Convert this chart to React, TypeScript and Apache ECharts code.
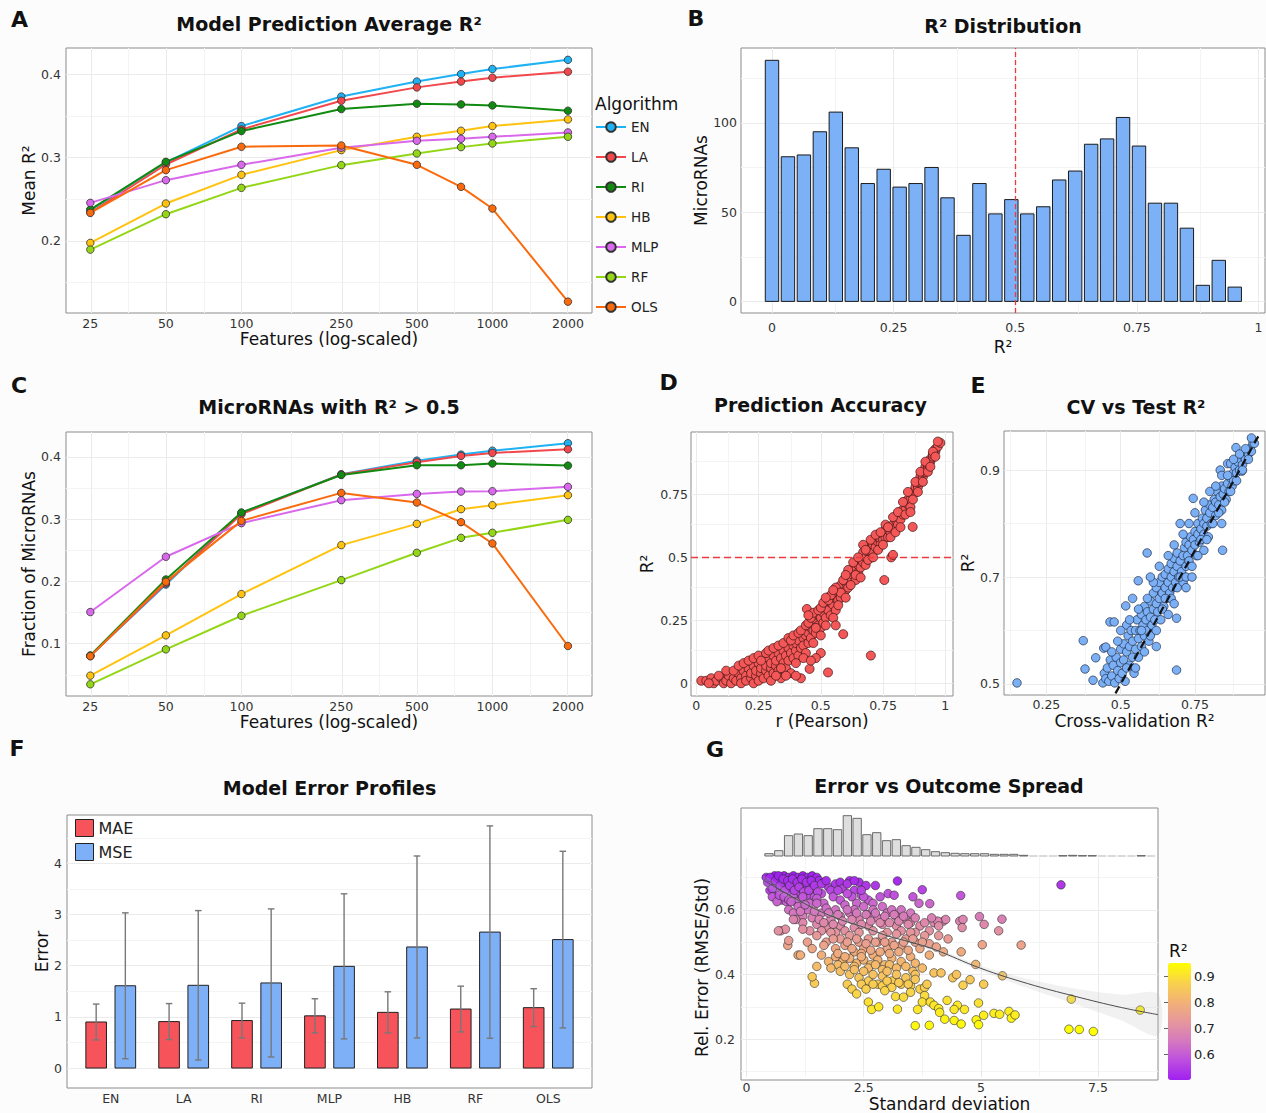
import React, { useEffect, useRef } from 'react';
import * as echarts from 'echarts';

const FONT = '"DejaVu Sans", "Liberation Sans", Verdana, sans-serif';
const MAJOR = '#ebebeb';
const MINOR = '#f4f4f4';
const TICK = '#333333';
const INK = '#111111';

// ---------- Panels A & C ----------
const featureCounts = [25, 50, 100, 250, 500, 750, 1000, 2000];
const featureTicks = [25, 50, 100, 250, 500, 1000, 2000];
const featureMinorTicks = [35.36, 70.71, 158.1, 353.6, 707.1, 1414];
const featureRange = [20, 2494];
const algorithms = ['EN', 'LA', 'RI', 'HB', 'MLP', 'RF', 'OLS'];
const algorithmColors = ['#1eb1f4', '#f2474b', '#108a10', '#ffc30f', '#d968ec', '#93d616', '#fa6a0c'];

const meanR2EN = [0.237, 0.294, 0.3376, 0.373, 0.391, 0.4, 0.406, 0.417];
const meanR2LA = [0.234, 0.2916, 0.3336, 0.368, 0.384, 0.391, 0.3956, 0.4028];
const meanR2RI = [0.2376, 0.2948, 0.3316, 0.358, 0.3644, 0.3636, 0.3624, 0.356];
const meanR2HB = [0.1976, 0.2448, 0.2792, 0.3088, 0.3248, 0.332, 0.3376, 0.3456];
const meanR2MLP = [0.2456, 0.2728, 0.2912, 0.3116, 0.32, 0.3224, 0.3248, 0.33];
const meanR2RF = [0.1896, 0.232, 0.2636, 0.2908, 0.3048, 0.3124, 0.3168, 0.3248];
const meanR2OLS = [0.2336, 0.2848, 0.3128, 0.3144, 0.2912, 0.2648, 0.2388, 0.1272];
const meanR2ByAlgorithm = [meanR2EN, meanR2LA, meanR2RI, meanR2HB, meanR2MLP, meanR2RF, meanR2OLS];
const meanR2Range = [0.1136, 0.4312];
const meanR2Ticks = [0.2, 0.3, 0.4];
const meanR2Minor = [0.15, 0.25, 0.35];

const fracEN = [0.0807, 0.195, 0.31, 0.372, 0.394, 0.4037, 0.41, 0.422];
const fracLA = [0.08, 0.197, 0.308, 0.3717, 0.3914, 0.4016, 0.4064, 0.4123];
const fracRI = [0.081, 0.2032, 0.3107, 0.371, 0.3866, 0.3866, 0.3893, 0.386];
const fracHB = [0.0487, 0.1134, 0.1797, 0.2583, 0.2925, 0.316, 0.3225, 0.3385];
const fracMLP = [0.1508, 0.2396, 0.2936, 0.3305, 0.3406, 0.3444, 0.3449, 0.3519];
const fracRF = [0.0348, 0.0909, 0.1449, 0.2021, 0.246, 0.27, 0.2781, 0.2989];
const fracOLS = [0.08, 0.1995, 0.2973, 0.3422, 0.3267, 0.2952, 0.261, 0.0963];
const fracByAlgorithm = [fracEN, fracLA, fracRI, fracHB, fracMLP, fracRF, fracOLS];
const fracRange = [0.016, 0.44];
const fracTicks = [0.1, 0.2, 0.3, 0.4];
const fracMinor = [0.05, 0.15, 0.25, 0.35];

// ---------- Panel B ----------
const r2BinCounts = [135, 81, 82, 95, 106, 86, 66, 74, 64, 66, 75, 58, 37, 66, 49, 57, 49, 53, 68, 73, 88, 91, 103, 87, 55, 55, 41, 9, 23, 8];
const r2FirstBinCenter = 0;
const r2BinWidth = 0.0328;
const r2Threshold = 0.5;

// ---------- Panel D ----------
const pearsonPoints = [
  [0.02, 0.01], [0.04, 0.01], [0.06, 0.02], [0.07, 0.0], [0.08, 0.01], [0.1, 0.02], [0.11, 0.0], [0.12, 0.01], [0.13, 0.03], [0.14, 0.0],
  [0.15, 0.02], [0.16, 0.01], [0.17, 0.04], [0.18, 0.02], [0.18, 0.0], [0.19, 0.05], [0.2, 0.03], [0.2, 0.01], [0.21, 0.06], [0.22, 0.02],
  [0.22, 0.04], [0.23, 0.07], [0.23, 0.0], [0.24, 0.03], [0.24, 0.05], [0.25, 0.08], [0.25, 0.01], [0.26, 0.04], [0.26, 0.06], [0.27, 0.09],
  [0.27, 0.02], [0.28, 0.05], [0.28, 0.07], [0.29, 0.03], [0.29, 0.1], [0.3, 0.06], [0.3, 0.08], [0.3, 0.01], [0.31, 0.11], [0.31, 0.04],
  [0.32, 0.07], [0.32, 0.09], [0.33, 0.12], [0.33, 0.05], [0.34, 0.1], [0.34, 0.02], [0.35, 0.08], [0.35, 0.13], [0.36, 0.11], [0.36, 0.06],
  [0.37, 0.14], [0.37, 0.09], [0.38, 0.12], [0.38, 0.04], [0.39, 0.15], [0.39, 0.1], [0.4, 0.13], [0.4, 0.16], [0.41, 0.11], [0.41, 0.17],
  [0.42, 0.14], [0.42, 0.02], [0.43, 0.18], [0.43, 0.15], [0.44, 0.19], [0.44, 0.12], [0.444, 0.295], [0.45, 0.2], [0.45, 0.16], [0.455, 0.057],
  [0.46, 0.22], [0.46, 0.18], [0.47, 0.21], [0.47, 0.24], [0.48, 0.2], [0.48, 0.25], [0.49, 0.23], [0.49, 0.27], [0.5, 0.22], [0.5, 0.26],
  [0.51, 0.28], [0.51, 0.24], [0.52, 0.3], [0.52, 0.26], [0.529, 0.043], [0.53, 0.29], [0.54, 0.32], [0.54, 0.27], [0.55, 0.31], [0.55, 0.34],
  [0.56, 0.29], [0.56, 0.35], [0.57, 0.33], [0.57, 0.37], [0.58, 0.34], [0.58, 0.39], [0.59, 0.195], [0.59, 0.36], [0.6, 0.4], [0.6, 0.37],
  [0.61, 0.42], [0.61, 0.38], [0.62, 0.41], [0.62, 0.44], [0.63, 0.43], [0.63, 0.46], [0.64, 0.41], [0.64, 0.45], [0.65, 0.47], [0.65, 0.44],
  [0.66, 0.49], [0.66, 0.46], [0.67, 0.48], [0.67, 0.52], [0.68, 0.5], [0.68, 0.47], [0.69, 0.52], [0.69, 0.54], [0.701, 0.11], [0.7, 0.5],
  [0.7, 0.53], [0.71, 0.55], [0.71, 0.52], [0.72, 0.56], [0.72, 0.54], [0.73, 0.56], [0.73, 0.58], [0.74, 0.57], [0.74, 0.55], [0.75, 0.59],
  [0.75, 0.57], [0.755, 0.41], [0.76, 0.58], [0.76, 0.61], [0.77, 0.6], [0.77, 0.58], [0.78, 0.62], [0.78, 0.6], [0.783, 0.5], [0.79, 0.51],
  [0.79, 0.63], [0.8, 0.62], [0.8, 0.65], [0.81, 0.66], [0.81, 0.63], [0.82, 0.68], [0.82, 0.65], [0.83, 0.69], [0.83, 0.67], [0.84, 0.69],
  [0.84, 0.72], [0.85, 0.71], [0.85, 0.73], [0.86, 0.73], [0.86, 0.7], [0.869, 0.621], [0.87, 0.75], [0.87, 0.76], [0.88, 0.76], [0.88, 0.78],
  [0.89, 0.78], [0.89, 0.8], [0.9, 0.8], [0.9, 0.82], [0.91, 0.82], [0.91, 0.84], [0.92, 0.84], [0.92, 0.86], [0.93, 0.86], [0.93, 0.87],
  [0.94, 0.88], [0.94, 0.89], [0.95, 0.9], [0.95, 0.91], [0.96, 0.92], [0.96, 0.93], [0.97, 0.94], [0.98, 0.955],
  [0.05, 0.0], [0.09, 0.03], [0.12, 0.05], [0.15, 0.05], [0.17, 0.07], [0.19, 0.08], [0.21, 0.09], [0.23, 0.1], [0.25, 0.11], [0.26, 0.09],
  [0.28, 0.12], [0.29, 0.13], [0.31, 0.14], [0.32, 0.03], [0.33, 0.15], [0.35, 0.16], [0.36, 0.03], [0.37, 0.18], [0.38, 0.17], [0.39, 0.19],
  [0.4, 0.08], [0.41, 0.2], [0.42, 0.21], [0.43, 0.1], [0.44, 0.23], [0.45, 0.24], [0.46, 0.26], [0.47, 0.16], [0.47, 0.28], [0.48, 0.22],
  [0.49, 0.29], [0.5, 0.3], [0.5, 0.19], [0.51, 0.32], [0.52, 0.23], [0.53, 0.33], [0.54, 0.35], [0.55, 0.26], [0.56, 0.38], [0.57, 0.31],
  [0.58, 0.36], [0.59, 0.41], [0.6, 0.34], [0.61, 0.45], [0.62, 0.39], [0.63, 0.48], [0.64, 0.43], [0.65, 0.5], [0.66, 0.42], [0.67, 0.55],
  [0.68, 0.53], [0.69, 0.49], [0.7, 0.57], [0.71, 0.5], [0.72, 0.59], [0.73, 0.53], [0.74, 0.6], [0.75, 0.55], [0.76, 0.63], [0.77, 0.62],
  [0.78, 0.58], [0.79, 0.66], [0.8, 0.6], [0.81, 0.68], [0.82, 0.62], [0.83, 0.72], [0.84, 0.67], [0.85, 0.76], [0.86, 0.68], [0.87, 0.73],
  [0.88, 0.8], [0.89, 0.76], [0.9, 0.84], [0.91, 0.8], [0.92, 0.88], [0.93, 0.84], [0.94, 0.86], [0.95, 0.92], [0.96, 0.9], [0.97, 0.96],
  [0.6, 0.43], [0.55, 0.37], [0.52, 0.34], [0.45, 0.27], [0.56, 0.23], [0.5, 0.12], [0.48, 0.1], [0.46, 0.09], [0.4, 0.03], [0.34, 0.06]
];

// ---------- Panel E ----------
const cvTestPoints = [
  [0.151, 0.502], [0.374, 0.581], [0.38, 0.528], [0.407, 0.507], [0.416, 0.549], [0.443, 0.567], [0.45, 0.569], [0.464, 0.616], [0.478, 0.616], [0.44, 0.502],
  [0.445, 0.52], [0.45, 0.51], [0.455, 0.53], [0.46, 0.505], [0.465, 0.545], [0.47, 0.515], [0.475, 0.535], [0.48, 0.502], [0.485, 0.55], [0.49, 0.525],
  [0.495, 0.51], [0.5, 0.54], [0.5, 0.565], [0.505, 0.52], [0.51, 0.575], [0.51, 0.545], [0.515, 0.505], [0.517, 0.646], [0.52, 0.56], [0.52, 0.61],
  [0.525, 0.59], [0.53, 0.535], [0.53, 0.57], [0.535, 0.6], [0.54, 0.55], [0.54, 0.58], [0.545, 0.52], [0.55, 0.6], [0.55, 0.565], [0.555, 0.62],
  [0.559, 0.693], [0.56, 0.585], [0.56, 0.55], [0.565, 0.6], [0.57, 0.63], [0.57, 0.57], [0.575, 0.61], [0.58, 0.59], [0.58, 0.645], [0.585, 0.62],
  [0.589, 0.745], [0.59, 0.6], [0.59, 0.635], [0.595, 0.58], [0.6, 0.625], [0.6, 0.655], [0.605, 0.61], [0.61, 0.64], [0.61, 0.67], [0.615, 0.62],
  [0.62, 0.65], [0.62, 0.68], [0.625, 0.635], [0.63, 0.66], [0.63, 0.69], [0.635, 0.62], [0.64, 0.67], [0.64, 0.7], [0.645, 0.645], [0.65, 0.68],
  [0.65, 0.705], [0.655, 0.66], [0.66, 0.69], [0.66, 0.715], [0.665, 0.67], [0.67, 0.7], [0.67, 0.725], [0.675, 0.68], [0.68, 0.71], [0.68, 0.735],
  [0.685, 0.69], [0.688, 0.526], [0.69, 0.72], [0.69, 0.745], [0.695, 0.7], [0.7, 0.73], [0.7, 0.8], [0.705, 0.71], [0.71, 0.74], [0.71, 0.69],
  [0.715, 0.755], [0.72, 0.72], [0.72, 0.765], [0.725, 0.74], [0.73, 0.76], [0.73, 0.73], [0.735, 0.775], [0.74, 0.75], [0.744, 0.847], [0.745, 0.77],
  [0.75, 0.785], [0.75, 0.76], [0.755, 0.74], [0.76, 0.78], [0.76, 0.8], [0.765, 0.765], [0.77, 0.79], [0.775, 0.81], [0.78, 0.78], [0.78, 0.8],
  [0.785, 0.825], [0.79, 0.795], [0.79, 0.81], [0.795, 0.775], [0.8, 0.82], [0.8, 0.835], [0.805, 0.8], [0.81, 0.83], [0.815, 0.845], [0.82, 0.815],
  [0.82, 0.84], [0.825, 0.86], [0.83, 0.835], [0.835, 0.9], [0.835, 0.85], [0.84, 0.825], [0.84, 0.87], [0.843, 0.75], [0.845, 0.855], [0.85, 0.865],
  [0.855, 0.845], [0.86, 0.875], [0.86, 0.912], [0.865, 0.86], [0.87, 0.885], [0.87, 0.912], [0.875, 0.87], [0.88, 0.895], [0.88, 0.88], [0.885, 0.905],
  [0.888, 0.942], [0.89, 0.895], [0.895, 0.915], [0.9, 0.9], [0.905, 0.92], [0.908, 0.898], [0.91, 0.91], [0.915, 0.925], [0.92, 0.92], [0.925, 0.935],
  [0.93, 0.93], [0.935, 0.94], [0.94, 0.935], [0.945, 0.95], [0.95, 0.95],
  [0.47, 0.56], [0.49, 0.58], [0.5, 0.6], [0.52, 0.53], [0.53, 0.62], [0.55, 0.53], [0.56, 0.64], [0.57, 0.6], [0.58, 0.56], [0.59, 0.66],
  [0.6, 0.59], [0.61, 0.69], [0.62, 0.6], [0.63, 0.72], [0.64, 0.64], [0.65, 0.66], [0.66, 0.74], [0.67, 0.66], [0.68, 0.76], [0.69, 0.68],
  [0.7, 0.7], [0.71, 0.78], [0.72, 0.7], [0.73, 0.8], [0.74, 0.72], [0.75, 0.82], [0.76, 0.74], [0.77, 0.77], [0.78, 0.84], [0.79, 0.77],
  [0.8, 0.86], [0.81, 0.8], [0.82, 0.87], [0.83, 0.82], [0.84, 0.89], [0.85, 0.84], [0.86, 0.89], [0.87, 0.86], [0.88, 0.92], [0.89, 0.88],
  [0.9, 0.93], [0.91, 0.9], [0.92, 0.94], [0.93, 0.92], [0.94, 0.96], [0.54, 0.66], [0.6, 0.7], [0.66, 0.63], [0.72, 0.68], [0.78, 0.75],
  [0.84, 0.8], [0.62, 0.57], [0.68, 0.65], [0.74, 0.7], [0.688, 0.623]
];
const identityEnds = [0.44, 0.968];

// ---------- Panel F ----------
const errorModels = ['EN', 'LA', 'RI', 'MLP', 'HB', 'RF', 'OLS'];
const maeMean = [0.9, 0.908, 0.928, 1.02, 1.088, 1.153, 1.18];
const maeSd = [0.35, 0.352, 0.34, 0.334, 0.402, 0.447, 0.37];
const mseMean = [1.608, 1.617, 1.663, 1.987, 2.366, 2.657, 2.51];
const mseSd = [1.425, 1.46, 1.447, 1.418, 1.778, 2.075, 1.726];

// ---------- Panel G ----------
const sdBinCounts = [7, 16, 61, 66, 61, 82, 82, 79, 121, 113, 64, 70, 46, 49, 31, 26, 19, 13, 10, 8, 7, 7, 7, 5, 5, 5, 2, 0, 0, 0, 1, 2, 1, 1, 0, 0, 0, 0, 1, 0];
const sdBinStart = 0.375;
const sdBinWidth = 0.209;
// [standard deviation, relative error, R²]
const spreadPoints = [
  [0.42, 0.7, 0.51], [0.55, 0.69, 0.52], [0.6, 0.705, 0.5], [0.65, 0.68, 0.54], [0.7, 0.7, 0.51], [0.75, 0.69, 0.52], [0.8, 0.705, 0.5], [0.85, 0.68, 0.54],
  [0.9, 0.7, 0.51], [0.95, 0.69, 0.52], [1.0, 0.705, 0.5], [1.05, 0.68, 0.54], [1.1, 0.7, 0.51], [1.15, 0.69, 0.52], [1.2, 0.705, 0.5], [1.25, 0.68, 0.54],
  [1.3, 0.7, 0.51], [1.35, 0.69, 0.52], [1.4, 0.705, 0.5], [1.5, 0.7, 0.51], [1.55, 0.69, 0.52], [1.65, 0.685, 0.53], [0.5, 0.66, 0.56], [0.6, 0.665, 0.56],
  [0.7, 0.655, 0.57], [0.8, 0.67, 0.55], [0.9, 0.66, 0.56], [1.0, 0.67, 0.55], [1.1, 0.655, 0.57], [1.2, 0.665, 0.56], [1.3, 0.67, 0.55], [1.4, 0.66, 0.56],
  [0.75, 0.63, 0.6], [0.85, 0.625, 0.61], [1.0, 0.64, 0.59], [1.15, 0.63, 0.6], [1.3, 0.645, 0.58], [1.45, 0.64, 0.59], [1.6, 0.65, 0.58], [1.75, 0.67, 0.55],
  [1.9, 0.68, 0.54], [2.0, 0.685, 0.53], [2.05, 0.665, 0.56], [2.2, 0.69, 0.52], [2.3, 0.66, 0.56], [2.4, 0.685, 0.53], [2.55, 0.675, 0.54], [2.25, 0.64, 0.59],
  [2.45, 0.645, 0.58], [2.6, 0.63, 0.6], [3.22, 0.689, 0.52], [3.75, 0.662, 0.56], [3.91, 0.619, 0.62], [4.57, 0.644, 0.59], [6.71, 0.677, 0.54], [3.02, 0.65, 0.58],
  [3.15, 0.645, 0.58], [3.55, 0.64, 0.59], [3.68, 0.62, 0.62],
  [0.45, 0.685, 0.53], [0.5, 0.7, 0.51], [0.55, 0.665, 0.56], [0.62, 0.69, 0.52], [0.68, 0.705, 0.5], [0.72, 0.675, 0.54], [0.78, 0.695, 0.52], [0.82, 0.66, 0.56],
  [0.88, 0.69, 0.52], [0.92, 0.675, 0.54], [0.98, 0.695, 0.52], [1.02, 0.66, 0.56], [1.08, 0.685, 0.53], [1.12, 0.67, 0.55], [1.18, 0.695, 0.52], [1.22, 0.655, 0.57],
  [1.28, 0.685, 0.53], [1.33, 0.66, 0.56], [1.38, 0.69, 0.52], [1.45, 0.675, 0.54], [1.52, 0.655, 0.57], [1.6, 0.68, 0.54], [1.7, 0.69, 0.52], [1.8, 0.66, 0.56],
  [0.55, 0.64, 0.59], [0.65, 0.625, 0.61], [0.7, 0.645, 0.58], [0.8, 0.64, 0.59], [0.9, 0.63, 0.6], [1.05, 0.625, 0.61], [1.2, 0.64, 0.59], [1.35, 0.62, 0.62],
  [1.5, 0.635, 0.6], [1.65, 0.62, 0.62], [1.85, 0.64, 0.59], [2.0, 0.63, 0.6], [2.15, 0.65, 0.58], [2.35, 0.62, 0.62], [2.5, 0.64, 0.59], [2.7, 0.62, 0.62],
  [2.85, 0.64, 0.59], [1.95, 0.66, 0.56], [2.15, 0.68, 0.54], [2.3, 0.69, 0.52], [2.45, 0.66, 0.56], [2.75, 0.675, 0.54],
  [0.9, 0.6, 0.64], [1.0, 0.59, 0.65], [1.1, 0.61, 0.63], [1.2, 0.58, 0.66], [1.3, 0.6, 0.64], [1.4, 0.575, 0.67], [1.5, 0.62, 0.62], [1.6, 0.59, 0.65],
  [1.7, 0.605, 0.63], [1.8, 0.57, 0.68], [1.9, 0.6, 0.64], [2.0, 0.58, 0.66], [2.1, 0.615, 0.62], [2.2, 0.59, 0.65], [2.3, 0.6, 0.64], [2.4, 0.57, 0.68],
  [2.5, 0.61, 0.63], [2.6, 0.585, 0.66], [2.7, 0.6, 0.64], [2.8, 0.575, 0.67], [2.9, 0.61, 0.63], [3.0, 0.59, 0.65], [3.1, 0.6, 0.64], [3.2, 0.58, 0.66],
  [3.3, 0.6, 0.64], [3.4, 0.57, 0.68], [3.5, 0.59, 0.65], [1.2, 0.56, 0.69], [1.5, 0.555, 0.69], [1.7, 0.545, 0.7], [2.0, 0.55, 0.7], [2.3, 0.545, 0.7],
  [2.6, 0.55, 0.7], [2.9, 0.555, 0.69], [3.2, 0.55, 0.7], [3.5, 0.56, 0.69], [3.7, 0.55, 0.7], [4.2, 0.565, 0.68], [4.25, 0.57, 0.68], [4.55, 0.565, 0.68],
  [4.62, 0.57, 0.68], [4.97, 0.579, 0.66], [5.07, 0.555, 0.69], [5.45, 0.571, 0.67], [5.38, 0.535, 0.71], [4.6, 0.545, 0.7], [4.0, 0.56, 0.69], [4.08, 0.565, 0.68],
  [0.73, 0.535, 0.71], [0.83, 0.54, 0.71], [1.05, 0.57, 0.68], [0.95, 0.625, 0.61], [1.35, 0.535, 0.71],
  [1.0, 0.57, 0.68], [1.15, 0.595, 0.65], [1.25, 0.615, 0.62], [1.45, 0.595, 0.65], [1.55, 0.57, 0.68], [1.65, 0.56, 0.69], [1.75, 0.59, 0.65], [1.85, 0.555, 0.69],
  [1.95, 0.585, 0.66], [2.05, 0.565, 0.68], [2.15, 0.6, 0.64], [2.25, 0.57, 0.68], [2.35, 0.59, 0.65], [2.45, 0.555, 0.69], [2.55, 0.585, 0.66], [2.65, 0.565, 0.68],
  [2.75, 0.59, 0.65], [2.85, 0.56, 0.69], [2.95, 0.58, 0.66], [3.05, 0.56, 0.69], [3.15, 0.585, 0.66], [3.25, 0.565, 0.68], [3.35, 0.58, 0.66], [3.45, 0.555, 0.69],
  [3.6, 0.575, 0.67], [3.8, 0.56, 0.69], [3.95, 0.575, 0.67], [4.1, 0.55, 0.7], [1.6, 0.535, 0.71], [1.9, 0.53, 0.72], [2.1, 0.535, 0.71], [2.4, 0.53, 0.72],
  [2.7, 0.535, 0.71], [3.0, 0.53, 0.72], [3.3, 0.535, 0.71], [3.6, 0.53, 0.72], [3.9, 0.535, 0.71], [0.68, 0.535, 0.71],
  [1.5, 0.52, 0.73], [1.7, 0.5, 0.75], [1.8, 0.53, 0.72], [1.9, 0.48, 0.77], [2.0, 0.51, 0.74], [2.1, 0.49, 0.76], [2.2, 0.52, 0.73], [2.3, 0.47, 0.78],
  [2.4, 0.5, 0.75], [2.5, 0.48, 0.77], [2.6, 0.51, 0.74], [2.7, 0.46, 0.79], [2.8, 0.5, 0.75], [2.9, 0.52, 0.73], [3.0, 0.48, 0.77], [3.1, 0.5, 0.75],
  [3.2, 0.525, 0.72], [3.3, 0.49, 0.76], [3.4, 0.51, 0.74], [3.5, 0.53, 0.72], [3.6, 0.5, 0.75], [3.7, 0.48, 0.77], [3.8, 0.52, 0.73], [3.9, 0.495, 0.75],
  [4.1, 0.52, 0.73], [4.2, 0.47, 0.78], [4.3, 0.51, 0.74], [1.6, 0.46, 0.79], [1.75, 0.44, 0.81], [1.9, 0.455, 0.79], [2.05, 0.44, 0.81], [2.2, 0.45, 0.8],
  [2.35, 0.435, 0.81], [2.5, 0.445, 0.8], [2.65, 0.43, 0.82], [2.8, 0.445, 0.8], [2.95, 0.43, 0.82], [3.1, 0.45, 0.8], [3.3, 0.44, 0.81], [3.5, 0.455, 0.79],
  [3.6, 0.435, 0.81], [3.9, 0.46, 0.79], [1.3, 0.5, 0.75], [1.4, 0.48, 0.77], [1.1, 0.46, 0.79], [0.88, 0.49, 0.76], [0.9, 0.505, 0.74], [1.5, 0.425, 0.82],
  [4.58, 0.47, 0.78], [4.89, 0.431, 0.81], [5.03, 0.492, 0.76], [5.86, 0.491, 0.76],
  [1.65, 0.49, 0.76], [1.85, 0.51, 0.74], [1.95, 0.465, 0.78], [2.15, 0.5, 0.75], [2.25, 0.48, 0.77], [2.35, 0.51, 0.74], [2.45, 0.465, 0.78], [2.55, 0.495, 0.75],
  [2.65, 0.475, 0.77], [2.75, 0.5, 0.75], [2.85, 0.47, 0.78], [2.95, 0.5, 0.75], [3.05, 0.465, 0.78], [3.15, 0.49, 0.76], [3.25, 0.47, 0.78], [3.35, 0.5, 0.75],
  [3.45, 0.475, 0.77], [3.55, 0.51, 0.74], [3.75, 0.5, 0.75], [4.05, 0.485, 0.76], [1.95, 0.43, 0.82], [2.1, 0.455, 0.79], [2.3, 0.425, 0.82], [2.45, 0.455, 0.79],
  [2.6, 0.42, 0.82], [2.75, 0.43, 0.82], [2.9, 0.415, 0.83], [3.05, 0.43, 0.82], [3.2, 0.42, 0.82], [3.4, 0.425, 0.82], [3.55, 0.41, 0.83], [3.75, 0.42, 0.82],
  [1.15, 0.46, 0.79], [1.2, 0.54, 0.71],
  [1.8, 0.42, 0.82], [2.0, 0.41, 0.83], [2.1, 0.425, 0.82], [2.2, 0.4, 0.84], [2.3, 0.415, 0.83], [2.4, 0.39, 0.85], [2.5, 0.41, 0.83], [2.6, 0.38, 0.86],
  [2.7, 0.4, 0.84], [2.8, 0.37, 0.86], [2.9, 0.395, 0.84], [3.0, 0.41, 0.83], [3.1, 0.38, 0.86], [3.2, 0.4, 0.84], [3.3, 0.37, 0.86], [3.4, 0.39, 0.85],
  [3.5, 0.365, 0.87], [3.6, 0.4, 0.84], [3.7, 0.355, 0.87], [3.8, 0.36, 0.87], [4.0, 0.405, 0.84], [4.15, 0.405, 0.84], [4.4, 0.39, 0.85], [4.48, 0.4, 0.84],
  [4.77, 0.384, 0.85], [5.06, 0.37, 0.86], [5.46, 0.396, 0.84], [4.62, 0.367, 0.87], [1.45, 0.373, 0.86], [1.4, 0.393, 0.85], [2.15, 0.37, 0.86], [2.25, 0.355, 0.87],
  [2.35, 0.34, 0.88], [3.18, 0.332, 0.89],
  [2.45, 0.37, 0.86], [2.55, 0.355, 0.87], [2.7, 0.37, 0.86], [2.9, 0.365, 0.87], [3.0, 0.38, 0.86], [3.1, 0.36, 0.87], [3.25, 0.375, 0.86], [3.45, 0.37, 0.86],
  [3.6, 0.385, 0.85], [3.85, 0.37, 0.86], [3.5, 0.345, 0.88], [2.95, 0.35, 0.88], [4.5, 0.305, 0.91], [3.8, 0.335, 0.89],
  [2.6, 0.315, 0.9], [2.67, 0.292, 0.91], [2.82, 0.3, 0.91], [3.22, 0.293, 0.91], [3.65, 0.292, 0.91], [3.75, 0.315, 0.9], [3.92, 0.315, 0.9], [4.0, 0.305, 0.91],
  [4.1, 0.295, 0.91], [4.12, 0.283, 0.92], [4.28, 0.32, 0.9], [4.43, 0.292, 0.91], [4.65, 0.292, 0.91], [4.95, 0.312, 0.9], [3.6, 0.242, 0.94], [3.9, 0.243, 0.94],
  [4.23, 0.262, 0.93], [4.43, 0.258, 0.93], [4.58, 0.247, 0.94], [4.9, 0.26, 0.93], [4.95, 0.245, 0.94], [5.06, 0.274, 0.92], [5.28, 0.28, 0.92], [5.4, 0.277, 0.92],
  [5.6, 0.286, 0.92], [5.65, 0.265, 0.93], [5.73, 0.275, 0.92], [6.93, 0.324, 0.9], [8.4, 0.29, 0.92], [6.88, 0.231, 0.95], [7.1, 0.23, 0.95], [7.4, 0.224, 0.95],
  [3.35, 0.33, 0.89]
];
const fitX = [0.38, 1, 1.5, 2, 2.5, 3, 3.5, 4, 5, 6, 7, 8, 8.78];
const fitY = [0.69, 0.638, 0.6, 0.57, 0.546, 0.52, 0.5, 0.478, 0.419, 0.372, 0.333, 0.298, 0.276];
const fitUpper = [0.705, 0.645, 0.605, 0.575, 0.551, 0.525, 0.505, 0.484, 0.427, 0.386, 0.357, 0.338, 0.34];
const fitLower = [0.675, 0.631, 0.595, 0.565, 0.541, 0.515, 0.495, 0.472, 0.411, 0.358, 0.309, 0.258, 0.212];
const colorbarTicks = [0.6, 0.7, 0.8, 0.9];
const r2ColorRange = [0.5, 0.95];
const r2Palette = ['#a020f0', '#bd4ee0', '#d479be', '#e6979c', '#f2b276', '#f9d24c', '#ffff00'];

// ---------- helpers ----------
function txt(text: string, x: number, y: number, size: number, weight: string, align: string) {
  return {
    type: 'text', x, y, silent: true, z: 10,
    style: {
      text, fontSize: size, fontWeight: weight, fontFamily: FONT, fill: INK,
      align, textAlign: align, verticalAlign: 'middle', textVerticalAlign: 'middle'
    }
  };
}

function valAxis(gi: number, min: number, max: number, labels: number[] | null, margin: number, opts: any = {}) {
  const ax: any = {
    type: 'value', gridIndex: gi, min, max,
    axisLine: { show: false }, axisTick: { show: false }, splitLine: { show: false },
    axisLabel: { show: !!labels, margin, fontSize: 12.5, color: TICK, fontFamily: FONT },
    nameLocation: 'middle',
    nameTextStyle: { fontSize: 17, color: INK, fontFamily: FONT }
  };
  if (labels) ax.axisLabel.customValues = labels;
  if (opts.fmt) ax.axisLabel.formatter = opts.fmt;
  if (opts.name) { ax.name = opts.name; ax.nameGap = opts.gap; }
  if (opts.show === false) ax.show = false;
  if (opts.position) ax.position = opts.position;
  return ax;
}

function gridLineSeries(gi: number, xMaj: number[], xMin: number[], yMaj: number[], yMin: number[]) {
  const d: any[] = [];
  const minor = { color: MINOR, width: 1, type: 'solid' };
  const major = { color: MAJOR, width: 1, type: 'solid' };
  xMin.forEach((v) => d.push({ xAxis: v, lineStyle: minor }));
  yMin.forEach((v) => d.push({ yAxis: v, lineStyle: minor }));
  xMaj.forEach((v) => d.push({ xAxis: v, lineStyle: major }));
  yMaj.forEach((v) => d.push({ yAxis: v, lineStyle: major }));
  return {
    type: 'line', xAxisIndex: gi, yAxisIndex: gi, data: [], silent: true, z: 1,
    markLine: { silent: true, z: 1, symbol: ['none', 'none'], label: { show: false }, animation: false, data: d }
  };
}

function refLineSeries(gi: number, item: any, color: string, width: number, dash: number[]) {
  return {
    type: 'line', xAxisIndex: gi, yAxisIndex: gi, data: [], silent: true, z: 6,
    markLine: {
      silent: true, z: 6, symbol: ['none', 'none'], label: { show: false }, animation: false,
      lineStyle: { color, width, type: dash }, data: [item]
    }
  };
}

function buildOption() {
  const lg = Math.log10;
  const featFmt = (v: number) => String(Math.round(Math.pow(10, v)));
  const gridBase = { show: true, backgroundColor: '#ffffff', borderColor: '#8c8c8c', borderWidth: 1, containLabel: false };
  const grid = [
    { ...gridBase, left: 66, top: 48, width: 526, height: 265 },   // 0 A
    { ...gridBase, left: 741, top: 48, width: 524, height: 265 },  // 1 B
    { ...gridBase, left: 66, top: 432, width: 526, height: 264 },  // 2 C
    { ...gridBase, left: 691, top: 432, width: 262, height: 264 }, // 3 D
    { ...gridBase, left: 1004, top: 431, width: 261, height: 264 },// 4 E
    { ...gridBase, left: 67, top: 815, width: 525, height: 273 },  // 5 F
    { ...gridBase, left: 741, top: 808, width: 417, height: 272 }, // 6 G frame + marginal histogram
    { show: false, left: 741, top: 858, width: 417, height: 222 }, // 7 G scatter
    { show: false, left: 1168, top: 963, width: 23, height: 117 }  // 8 colorbar axis
  ];

  const xAxis = [
    valAxis(0, lg(featureRange[0]), lg(featureRange[1]), featureTicks.map(lg), 4, { fmt: featFmt, name: 'Features (log-scaled)', gap: 16 }),
    valAxis(1, -0.0637, 1.0134, [0, 0.25, 0.5, 0.75, 1], 8, { name: 'R²', gap: 25 }),
    valAxis(2, lg(featureRange[0]), lg(featureRange[1]), featureTicks.map(lg), 4, { fmt: featFmt, name: 'Features (log-scaled)', gap: 17.5 }),
    valAxis(3, -0.0213, 1.0309, [0, 0.25, 0.5, 0.75, 1], 3, { name: 'r (Pearson)', gap: 16 }),
    valAxis(4, 0.1073, 0.9857, [0.25, 0.5, 0.75], 3, { name: 'Cross-validation R²', gap: 17.5 }),
    valAxis(5, 0.4, 7.6, [1, 2, 3, 4, 5, 6, 7], 4, { fmt: (v: number) => errorModels[Math.round(v) - 1] }),
    valAxis(6, -0.118, 8.78, null, 4, { show: false }),
    valAxis(7, -0.118, 8.78, [0, 2.5, 5, 7.5], 4, { name: 'Standard deviation', gap: 16 }),
    valAxis(8, 0, 1, null, 4, { show: false })
  ];
  const yAxis = [
    valAxis(0, meanR2Range[0], meanR2Range[1], meanR2Ticks, 5, { name: 'Mean R²', gap: 26.5 }),
    valAxis(1, -6.5, 141.9, [0, 50, 100], 4, { name: 'MicroRNAs', gap: 29.5 }),
    valAxis(2, fracRange[0], fracRange[1], fracTicks, 5, { name: 'Fraction of MicroRNAs', gap: 28 }),
    valAxis(3, -0.0506, 0.998, [0, 0.25, 0.5, 0.75], 3, { name: 'R²', gap: 36 }),
    valAxis(4, 0.4794, 0.973, [0.5, 0.7, 0.9], 4, { name: 'R²', gap: 26.5 }),
    valAxis(5, -0.39, 4.945, [0, 1, 2, 3, 4], 5, { name: 'Error', gap: 16 }),
    valAxis(6, -672, 144, null, 4, { show: false }),
    valAxis(7, 0.083, 0.76, [0.2, 0.4, 0.6], 6, { name: 'Rel. Error (RMSE/Std)', gap: 30.5 }),
    valAxis(8, r2ColorRange[0], r2ColorRange[1], colorbarTicks, 3, { position: 'right' }),
    valAxis(8, r2ColorRange[0], r2ColorRange[1], null, 3, { position: 'left' })
  ];
  yAxis[8].axisLabel.fontSize = 13;
  yAxis[8].axisLabel.color = '#222';
  yAxis[8].axisTick = { show: true, inside: true, length: 4, customValues: colorbarTicks, lineStyle: { color: '#666', width: 1 } };
  yAxis[9].axisTick = { show: true, inside: true, length: 4, customValues: colorbarTicks, lineStyle: { color: '#666', width: 1 } };

  const series: any[] = [];

  // --- A ---
  series.push(gridLineSeries(0, featureTicks.map(lg), featureMinorTicks.map(lg), meanR2Ticks, meanR2Minor));
  algorithms.forEach((name, k) => {
    series.push({
      type: 'line', name, xAxisIndex: 0, yAxisIndex: 0, z: 3 + k * 0.01,
      data: featureCounts.map((f, i) => [lg(f), meanR2ByAlgorithm[k][i]]),
      symbol: 'circle', symbolSize: 7.5,
      lineStyle: { width: 2, color: algorithmColors[k] },
      itemStyle: { color: algorithmColors[k], borderColor: '#333', borderWidth: 0.8 },
      emphasis: { disabled: true }
    });
  });

  // --- B ---
  series.push(gridLineSeries(1, [0, 0.25, 0.5, 0.75, 1], [0.125, 0.375, 0.625, 0.875], [0, 50, 100], [25, 75, 125]));
  const r2BarWidth = r2BinWidth * 0.84;
  series.push({
    type: 'custom', xAxisIndex: 1, yAxisIndex: 1, z: 3,
    data: r2BinCounts.map((c, i) => [r2FirstBinCenter + i * r2BinWidth, c]),
    renderItem: (params: any, api: any) => {
      const x = api.value(0), c = api.value(1);
      const p1 = api.coord([x - r2BarWidth / 2, c]);
      const p2 = api.coord([x + r2BarWidth / 2, 0]);
      return {
        type: 'rect', shape: { x: p1[0], y: p1[1], width: p2[0] - p1[0], height: p2[1] - p1[1] },
        style: { fill: '#7db1f7', stroke: '#1a1a1a', lineWidth: 1 }
      };
    }
  });
  series.push(refLineSeries(1, { xAxis: r2Threshold }, '#ea3b3e', 1.3, [5, 3]));

  // --- C ---
  series.push(gridLineSeries(2, featureTicks.map(lg), featureMinorTicks.map(lg), fracTicks, fracMinor));
  algorithms.forEach((name, k) => {
    series.push({
      type: 'line', name, xAxisIndex: 2, yAxisIndex: 2, z: 3 + k * 0.01,
      data: featureCounts.map((f, i) => [lg(f), fracByAlgorithm[k][i]]),
      symbol: 'circle', symbolSize: 7.5,
      lineStyle: { width: 2, color: algorithmColors[k] },
      itemStyle: { color: algorithmColors[k], borderColor: '#333', borderWidth: 0.8 },
      emphasis: { disabled: true }
    });
  });

  // --- D ---
  series.push(gridLineSeries(3, [0, 0.25, 0.5, 0.75, 1], [0.125, 0.375, 0.625, 0.875], [0, 0.25, 0.5, 0.75], [0.125, 0.375, 0.625, 0.875]));
  series.push({
    type: 'scatter', xAxisIndex: 3, yAxisIndex: 3, z: 3, data: pearsonPoints, symbolSize: 9,
    itemStyle: { color: '#f45757', borderColor: '#3a1010', borderWidth: 0.7, opacity: 1 },
    emphasis: { disabled: true }
  });
  series.push(refLineSeries(3, { yAxis: r2Threshold }, '#ea3b3e', 1.3, [7, 4]));

  // --- E ---
  series.push(gridLineSeries(4, [0.25, 0.5, 0.75], [0.125, 0.375, 0.625, 0.875], [0.5, 0.7, 0.9], [0.6, 0.8]));
  series.push({
    type: 'scatter', xAxisIndex: 4, yAxisIndex: 4, z: 3, data: cvTestPoints, symbolSize: 8.5,
    itemStyle: { color: '#7cb0f6', borderColor: '#1d2b45', borderWidth: 0.7, opacity: 1 },
    emphasis: { disabled: true }
  });
  series.push({
    type: 'line', xAxisIndex: 4, yAxisIndex: 4, z: 6, data: identityEnds.map((v) => [v, v]),
    symbol: 'none', lineStyle: { color: '#111', width: 2.2, type: [8, 5] }, silent: true
  });

  // --- F ---
  series.push(gridLineSeries(5, [], [], [0, 1, 2, 3, 4], [0.5, 1.5, 2.5, 3.5, 4.5]));
  const fOffset = 0.2;
  const fBarW = 0.283;
  const fCap = 0.045;
  const errSeries = (name: string, means: number[], sds: number[], offset: number, color: string) => ({
    type: 'custom', name, xAxisIndex: 5, yAxisIndex: 5, z: 3,
    itemStyle: { color, borderColor: '#222', borderWidth: 1 },
    data: means.map((m, i) => [i + 1, m, m - sds[i], m + sds[i]]),
    renderItem: (params: any, api: any) => {
      const xc = api.value(0) + offset;
      const v = api.value(1), lo = api.value(2), hi = api.value(3);
      const p1 = api.coord([xc - fBarW / 2, v]);
      const p2 = api.coord([xc + fBarW / 2, 0]);
      const t = api.coord([xc, hi]);
      const b = api.coord([xc, lo]);
      const cl = api.coord([xc - fCap, hi])[0];
      const cr = api.coord([xc + fCap, hi])[0];
      const es = { stroke: '#787878', lineWidth: 1.4 };
      return {
        type: 'group', children: [
          { type: 'rect', shape: { x: p1[0], y: p1[1], width: p2[0] - p1[0], height: p2[1] - p1[1] }, style: { fill: color, stroke: '#222', lineWidth: 1 } },
          { type: 'line', shape: { x1: t[0], y1: t[1], x2: b[0], y2: b[1] }, style: es },
          { type: 'line', shape: { x1: cl, y1: t[1], x2: cr, y2: t[1] }, style: es },
          { type: 'line', shape: { x1: cl, y1: b[1], x2: cr, y2: b[1] }, style: es }
        ]
      };
    }
  });
  series.push(errSeries('MAE', maeMean, maeSd, -fOffset, '#f6545a'));
  series.push(errSeries('MSE', mseMean, mseSd, fOffset, '#7eb0f7'));

  // --- G marginal histogram ---
  const sdBarW = sdBinWidth * 0.85;
  series.push({
    type: 'custom', xAxisIndex: 6, yAxisIndex: 6, z: 3,
    data: sdBinCounts.map((c, i) => [sdBinStart + (i + 0.5) * sdBinWidth, c]),
    renderItem: (params: any, api: any) => {
      const x = api.value(0), c = api.value(1);
      const p1 = api.coord([x - sdBarW / 2, c]);
      const p2 = api.coord([x + sdBarW / 2, 0]);
      if (c === 0) {
        return { type: 'line', shape: { x1: p1[0], y1: p2[1], x2: p2[0], y2: p2[1] }, style: { stroke: '#b5b5b5', lineWidth: 1 } };
      }
      return {
        type: 'rect', shape: { x: p1[0], y: p1[1], width: p2[0] - p1[0], height: p2[1] - p1[1] },
        style: { fill: '#dedede', stroke: '#5a5a5a', lineWidth: 0.9 }
      };
    }
  });

  // --- G scatter ---
  series.push(gridLineSeries(7, [0, 2.5, 5, 7.5], [1.25, 3.75, 6.25], [0.2, 0.4, 0.6], [0.1, 0.3, 0.5, 0.7]));
  const gScatterIndex = series.length;
  series.push({
    type: 'scatter', xAxisIndex: 7, yAxisIndex: 7, z: 3, data: spreadPoints, symbolSize: 8.5,
    itemStyle: { borderColor: '#2a2a2a', borderWidth: 0.6, opacity: 1 },
    emphasis: { disabled: true }
  });
  series.push({
    type: 'custom', xAxisIndex: 7, yAxisIndex: 7, z: 4, silent: true,
    data: [[fitX[0], fitY[0]]],
    renderItem: (params: any, api: any) => {
      const pts: number[][] = [];
      fitX.forEach((x, i) => pts.push(api.coord([x, fitUpper[i]])));
      for (let i = fitX.length - 1; i >= 0; i--) pts.push(api.coord([fitX[i], fitLower[i]]));
      return { type: 'polygon', shape: { points: pts, smooth: 0.3 }, style: { fill: 'rgba(190,190,190,0.22)', stroke: 'none' } };
    }
  });
  series.push({
    type: 'line', xAxisIndex: 7, yAxisIndex: 7, z: 5, silent: true,
    data: fitX.map((x, i) => [x, fitY[i]]), smooth: 0.4, symbol: 'none',
    lineStyle: { color: '#4a4a4a', width: 1 }
  });

  // colorbar axis carrier
  series.push({ type: 'line', xAxisIndex: 8, yAxisIndex: 8, data: [], silent: true });

  const legendText = { fontSize: 13.5, color: '#222', fontFamily: FONT };

  return {
    animation: false,
    backgroundColor: '#fcfcfc',
    textStyle: { fontFamily: FONT },
    grid, xAxis, yAxis, series,
    legend: [
      {
        data: algorithms, orient: 'vertical', left: 595, top: 120, itemWidth: 30, itemHeight: 12, itemGap: 16,
        padding: 0, selectedMode: false, textStyle: legendText
      },
      {
        data: ['MAE', 'MSE'], orient: 'vertical', left: 75, top: 819, itemWidth: 18, itemHeight: 17, itemGap: 6,
        icon: 'rect', padding: 0, selectedMode: false,
        itemStyle: { borderColor: '#222', borderWidth: 1 },
        textStyle: { fontSize: 16, color: '#222', fontFamily: FONT }
      }
    ],
    visualMap: {
      type: 'continuous', seriesIndex: gScatterIndex, dimension: 2,
      min: r2ColorRange[0], max: r2ColorRange[1], inRange: { color: r2Palette },
      left: 1168, top: 963, itemWidth: 23, itemHeight: 117, padding: 0,
      calculable: false, hoverLink: false, text: null, showLabel: false
    },
    graphic: [
      txt('A', 11, 19.1, 22, 'bold', 'left'),
      txt('Model Prediction Average R²', 329, 23.8, 19, 'bold', 'center'),
      txt('B', 687.5, 18.4, 22, 'bold', 'left'),
      txt('R² Distribution', 1003, 25.5, 19, 'bold', 'center'),
      txt('C', 11, 385.1, 22, 'bold', 'left'),
      txt('MicroRNAs with R² > 0.5', 329, 406.5, 19, 'bold', 'center'),
      txt('D', 659.5, 382.4, 22, 'bold', 'left'),
      txt('Prediction Accuracy', 820.5, 404.5, 19, 'bold', 'center'),
      txt('E', 970.5, 385.7, 22, 'bold', 'left'),
      txt('CV vs Test R²', 1136, 406.5, 19, 'bold', 'center'),
      txt('F', 9.5, 748.4, 22, 'bold', 'left'),
      txt('Model Error Profiles', 329.5, 787.8, 19, 'bold', 'center'),
      txt('G', 706, 749.1, 22, 'bold', 'left'),
      txt('Error vs Outcome Spread', 949, 786.1, 19, 'bold', 'center'),
      txt('Algorithm', 595, 104.1, 17, 'normal', 'left'),
      txt('R²', 1169, 950.8, 17, 'normal', 'left')
    ]
  };
}

export default function App() {
  const ref = useRef<HTMLDivElement>(null);
  useEffect(() => {
    if (!ref.current) return;
    const chart = echarts.init(ref.current, null, { renderer: 'svg' });
    chart.setOption(buildOption() as any);
    return () => chart.dispose();
  }, []);
  return (
    <div
      ref={ref}
      style={{ position: 'absolute', left: 0, top: 0, width: 1266, height: 1113, background: '#fcfcfc' }}
    />
  );
}
